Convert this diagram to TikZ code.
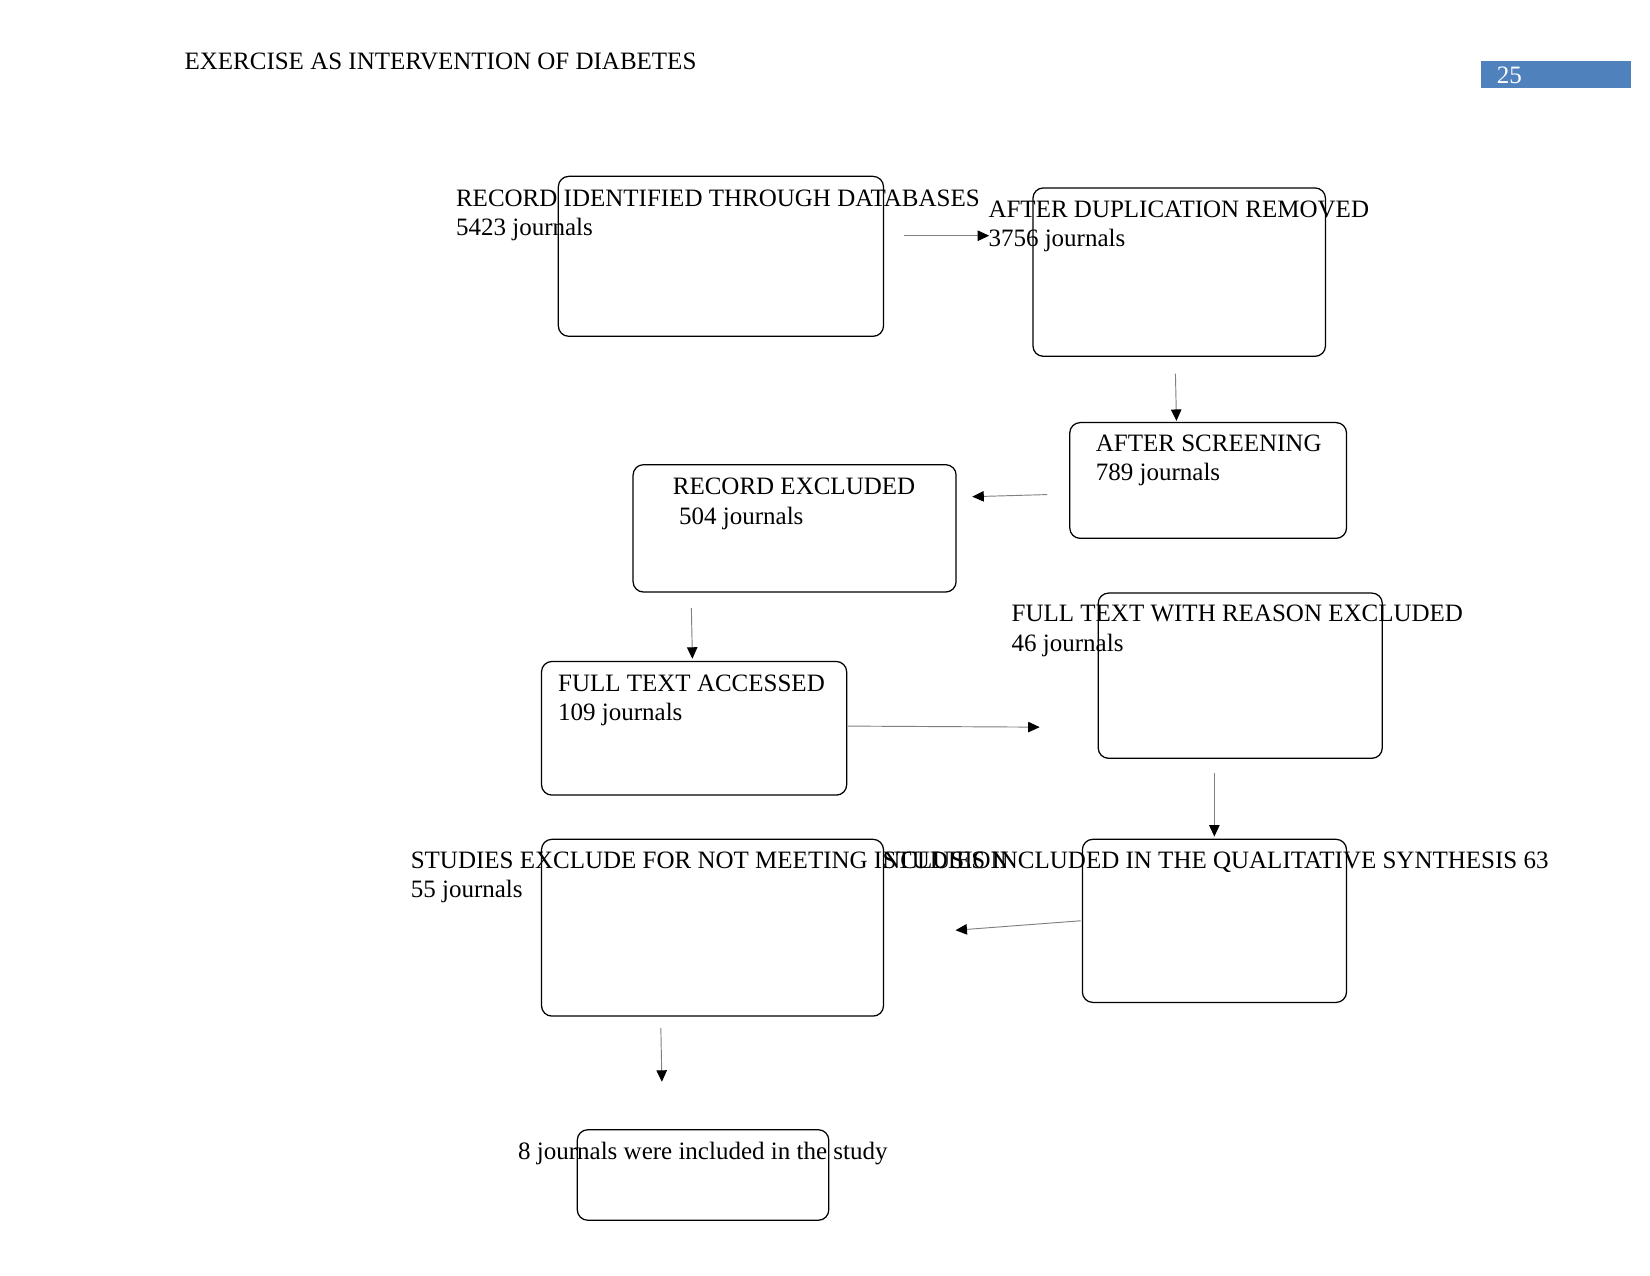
\documentclass[tikz,border=0pt]{standalone}
\usepackage{fontspec}
\setmainfont{Liberation Serif}
\usetikzlibrary{arrows.meta}
\definecolor{hdrblue}{HTML}{4F81BD}
\tikzset{
  box/.style={draw=black, line width=0.6pt, rounded corners=5pt, inner sep=0pt, anchor=north west},
  lbl/.style={inner sep=0pt, anchor=base west, font=\fontsize{12}{14}\selectfont},
  conn/.style={draw=black!50, line width=0.45pt, -{Triangle[length=5.5pt,width=5pt,color=black]}}
}
\newcommand{\bx}[5]{\node[box, minimum width={(#4-#2)*0.5051pt}, minimum height={(#5-#3)*0.5051pt}] (#1) at (#2,#3) {};}
\begin{document}
\begin{tikzpicture}[x=0.5051pt,y=-0.5051pt]
\useasboundingbox (0,0) rectangle (1568,1212);
% header
\node[lbl] (hdr) at (175,66) {EXERCISE AS INTERVENTION OF DIABETES};
\fill[hdrblue] (1407,58) rectangle (1550,84);
\node[lbl, text=white] (pg) at (1422,79) {25};
% boxes
\bx{b1}{530}{167}{839}{319}
\bx{b2}{981}{178}{1259}{338}
\bx{b3}{1016}{401}{1279}{511}
\bx{b4}{601}{441}{908}{562}
\bx{b5}{514}{628}{804}{755}
\bx{b6}{1043}{563}{1313}{720}
\bx{b7}{1028}{797}{1279}{952}
\bx{b8}{514}{797}{839}{965}
\bx{b9}{548}{1073}{787}{1159}
% texts
\node[lbl] (t1a) at (433,196) {RECORD IDENTIFIED THROUGH DATABASES};
\node[lbl] (t1b) at (433,224) {5423 journals};
\node[lbl] (t2a) at (939,207) {AFTER DUPLICATION REMOVED};
\node[lbl] (t2b) at (939,234) {3756 journals};
\node[lbl] (t3a) at (1041,429) {AFTER SCREENING};
\node[lbl] (t3b) at (1041,457) {789 journals};
\node[lbl] (t4a) at (639,470) {RECORD EXCLUDED};
\node[lbl] (t4b) at (645,498) {504 journals};
\node[lbl] (t5a) at (530,657) {FULL TEXT ACCESSED};
\node[lbl] (t5b) at (530,685) {109 journals};
\node[lbl] (t6a) at (961,591) {FULL TEXT WITH REASON EXCLUDED};
\node[lbl] (t6b) at (961,619) {46 journals};
\node[lbl] (t7a) at (390,825) {STUDIES EXCLUDE FOR NOT MEETING INCLUSION};
\node[lbl] (t7b) at (390,853) {55 journals};
\node[lbl, anchor=base east] (t8a) at (1472,825) {STUDIES INCLUDED IN THE QUALITATIVE SYNTHESIS 63};
\node[lbl] (t9a) at (492,1102) {8 journals were included in the study};
% connector end points
\coordinate (a1s) at (859,224); \coordinate (a1e) at (940,224);
\coordinate (a2s) at (1117,355); \coordinate (a2e) at (1118,400);
\coordinate (a3s) at (995,470); \coordinate (a3e) at (924,472);
\coordinate (a4s) at (657,578); \coordinate (a4e) at (658,626);
\coordinate (a5s) at (806,690); \coordinate (a5e) at (988,691);
\coordinate (a6s) at (1154,735); \coordinate (a6e) at (1154,795);
\coordinate (a7s) at (1027,875); \coordinate (a7e) at (908,884);
\coordinate (a8s) at (628,977); \coordinate (a8e) at (629,1028);
\draw[conn] (a1s) -- (a1e);
\draw[conn] (a2s) -- (a2e);
\draw[conn] (a3s) -- (a3e);
\draw[conn] (a4s) -- (a4e);
\draw[conn] (a5s) -- (a5e);
\draw[conn] (a6s) -- (a6e);
\draw[conn] (a7s) -- (a7e);
\draw[conn] (a8s) -- (a8e);
\end{tikzpicture}
\end{document}
